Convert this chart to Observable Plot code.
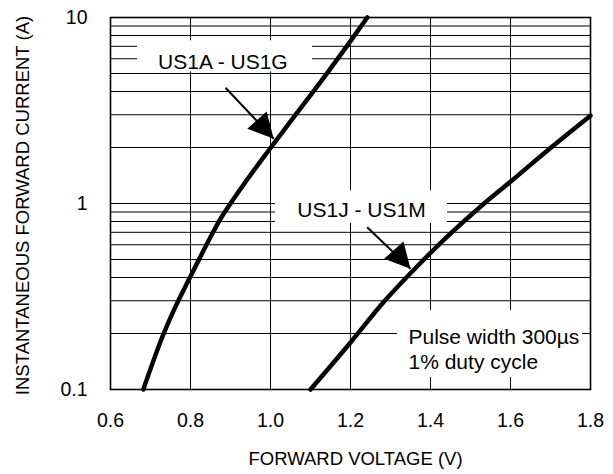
<!DOCTYPE html>
<html><head><meta charset="utf-8">
<script src="https://cdn.jsdelivr.net/npm/d3@7"></script>
<script src="https://cdn.jsdelivr.net/npm/@observablehq/plot@0.6"></script>
<style>html,body{margin:0;padding:0;background:#fff;} #chart svg{display:block}</style>
</head><body><div id="chart"></div>
<script>
// Series: US1A - US1G
const seriesA_V = [0.682, 0.733, 0.759, 0.796, 0.820, 0.839, 0.856, 0.871, 0.900, 0.940, 1.001, 1.061, 1.106, 1.195, 1.242];
const seriesA_I = [0.100, 0.200, 0.269, 0.390, 0.494, 0.595, 0.698, 0.800, 1.00, 1.33, 2.00, 2.97, 3.97, 7.22, 10.0];
// Series: US1J - US1M
const seriesB_V = [1.100, 1.200, 1.284, 1.375, 1.4425, 1.534, 1.600, 1.700, 1.800];
const seriesB_I = [0.100, 0.179, 0.297, 0.479, 0.665, 1.00, 1.31, 1.99, 2.97];

// Axis ticks
const xTicks = [0.6, 0.8, 1.0, 1.2, 1.4, 1.6, 1.8];
const xTickLabels = ["0.6", "0.8", "1.0", "1.2", "1.4", "1.6", "1.8"];
const yTicks = [0.1, 1, 10];
const yTickLabels = ["0.1", "1", "10"];
const xGrid = [0.8, 1.0, 1.2, 1.4, 1.6];
const yGrid = [0.2, 0.3, 0.4, 0.5, 0.6, 0.7, 0.8, 0.9, 1, 2, 3, 4, 5, 6, 7, 8, 9];

// Annotations (data coordinates)
const labelText = ["US1A - US1G", "US1J - US1M"];
const labelV = [0.881, 1.2275];
const labelI = [5.76, 0.917];
const noteText = ["Pulse width 300µs", "1% duty cycle"];
const noteV = [1.345, 1.345];
const noteI = [0.191, 0.1404];
const boxV1 = [0.6675, 1.0125, 1.3175];
const boxV2 = [1.105, 1.4425, 1.78];
const boxI1 = [5.1, 0.78, 0.116];
const boxI2 = [7.5, 1.17, 0.266];
const arrowV1 = [0.8875, 1.2417];
const arrowI1 = [4.19, 0.746];
const arrowV2 = [1.008, 1.350];
const arrowI2 = [2.23, 0.446];
const xTitle = "FORWARD VOLTAGE (V)";
const yTitle = "INSTANTANEOUS FORWARD CURRENT (A)";

const curveA = seriesA_V.map((v, k) => ({v, i: seriesA_I[k]}));
const curveB = seriesB_V.map((v, k) => ({v, i: seriesB_I[k]}));
const labels = labelText.map((t, k) => ({t, v: labelV[k], i: labelI[k]}));
const notes = noteText.map((t, k) => ({t, v: noteV[k], i: noteI[k]}));
const boxes = boxV1.map((a, k) => ({x1: a, x2: boxV2[k], y1: boxI1[k], y2: boxI2[k]}));
const arrows = arrowV1.map((a, k) => ({x1: a, y1: arrowI1[k], x2: arrowV2[k], y2: arrowI2[k]}));

const FONT = "'Liberation Sans', Arial, Helvetica, sans-serif";

// Filled arrowhead: tip at origin, pointing down-right
const headSymbol = {
  draw(ctx) {
    const a = 138 * Math.PI / 180;
    const pts = [[0, 0], [-13, 25], [13, 25]].map(([x, y]) => [x * Math.cos(a) - y * Math.sin(a), x * Math.sin(a) + y * Math.cos(a)]);
    ctx.moveTo(pts[0][0], pts[0][1]);
    ctx.lineTo(pts[1][0], pts[1][1]);
    ctx.lineTo(pts[2][0], pts[2][1]);
    ctx.closePath();
  }
};

const chart = Plot.plot({
  width: 613,
  height: 474,
  marginTop: 17,
  marginBottom: 85,
  marginLeft: 110,
  marginRight: 23,
  style: {fontFamily: FONT, fontSize: "19.5px", color: "#000", background: "#fff"},
  x: {domain: [0.6, 1.8], ticks: xTicks, tickFormat: d => xTickLabels[xTicks.indexOf(d)], tickSize: 0, tickPadding: 24, label: null},
  y: {type: "log", domain: [0.1, 10], ticks: yTicks, tickFormat: d => yTickLabels[yTicks.indexOf(d)], tickSize: 0, tickPadding: 23, label: null},
  marks: [
    Plot.ruleX(xGrid, {stroke: "#000", strokeWidth: 1}),
    Plot.ruleY(yGrid, {stroke: "#000", strokeWidth: 1}),
    Plot.rect(boxes, {x1: "x1", x2: "x2", y1: "y1", y2: "y2", fill: "#fff"}),
    Plot.frame({stroke: "#000", strokeWidth: 1.6}),
    Plot.line(curveA, {x: "v", y: "i", stroke: "#000", strokeWidth: 4.5, curve: "monotone-x"}),
    Plot.line(curveB, {x: "v", y: "i", stroke: "#000", strokeWidth: 4.5, curve: "monotone-x"}),
    Plot.link(arrows, {x1: "x1", y1: "y1", x2: "x2", y2: "y2", stroke: "#000", strokeWidth: 2}),
    Plot.dot(arrows, {x: "x2", y: "y2", symbol: headSymbol, fill: "#000", stroke: "none"}),
    Plot.text(labels, {x: "v", y: "i", text: "t", fontSize: 21, textAnchor: "middle", fill: "#000"}),
    Plot.text(notes, {x: "v", y: "i", text: "t", fontSize: 21, textAnchor: "start", fill: "#000"}),
    Plot.text([xTitle], {frameAnchor: "bottom", dx: 5, dy: 70, fontSize: 18.5, textAnchor: "middle", lineAnchor: "middle", fill: "#000"}),
    Plot.text([yTitle], {frameAnchor: "left", rotate: -90, dx: -87, dy: 2, fontSize: 18.5, textAnchor: "middle", lineAnchor: "middle", fill: "#000"})
  ]
});
document.getElementById("chart").appendChild(chart);
</script>
</body></html>
